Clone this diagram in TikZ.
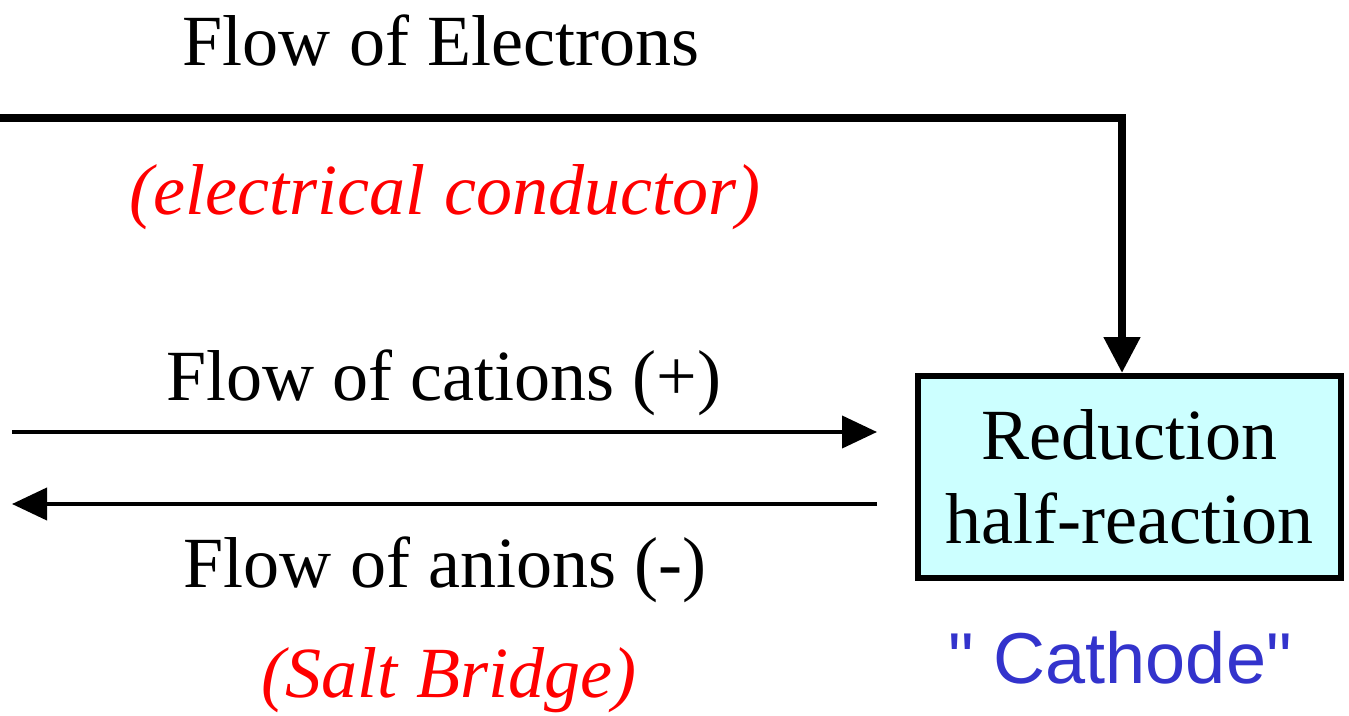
\documentclass[tikz,border=0pt]{standalone}
\usepackage{fontspec}
\setmainfont{Liberation Serif}
\newfontfamily\polefont{Liberation Sans}[Ligatures=TeXOff]
\usetikzlibrary{arrows.meta,calc,positioning}
\definecolor{ink}{HTML}{000000}
\definecolor{note}{HTML}{FF0000}
\definecolor{electrode}{HTML}{3333CC}
\definecolor{cellfill}{HTML}{CCFFFF}
\newcommand{\tall}{\fontsize{41}{48}\selectfont}
\tikzset{
 every node/.append style={font=\tall,text=ink,align=center,inner sep=0pt},
 cell/.style={draw=ink,fill=cellfill,line width=3.4pt,minimum width=84.6mm,minimum height=40.4mm},
 word/.style={anchor=base},
 remark/.style={word,text=note,font=\tall\itshape},
 pole/.style={word,text=electrode,font=\tall\polefont},
 wire/.style={-{Triangle[length=7.2mm,width=7mm]},draw=ink,line width=4.5pt},
 ionflow/.style={-{Triangle[length=7mm,width=6.4mm]},draw=ink,line width=2.3pt},
}
\begin{document}
\begin{tikzpicture}

\useasboundingbox (0,0) rectangle (26.98,-14.32);
\node[cell] (half) at (22.59,-9.54) {Reduction\\half-reaction};
\node[word] (electrons) at (8.82,-1.32) {Flow of Electrons};
\node[remark] (conductor) at (8.9,-4.3) {(electrical conductor)};
\node[word] (cations) at (8.88,-8.0) {Flow of cations (+)};
\node[word] (anions) at (8.9,-11.74) {Flow of anions (-)};
\node[remark] (bridge) at (8.98,-13.94) {(Salt Bridge)};
\node[pole] (cathode) at (22.4,-13.66) {" Cathode"};
\coordinate (wireL) at (-0.1,-2.36);
\coordinate (catL) at (0.24,-8.64);
\coordinate (anL) at (0.24,-10.08);
\draw[wire] (wireL) -| ([xshift=-1.5mm]half.north);
\draw[ionflow,shorten >=7.6mm] (catL) -- (half.west |- catL);
\draw[ionflow,shorten <=7.6mm] (half.west |- anL) -- (anL);

\end{tikzpicture}
\end{document}
